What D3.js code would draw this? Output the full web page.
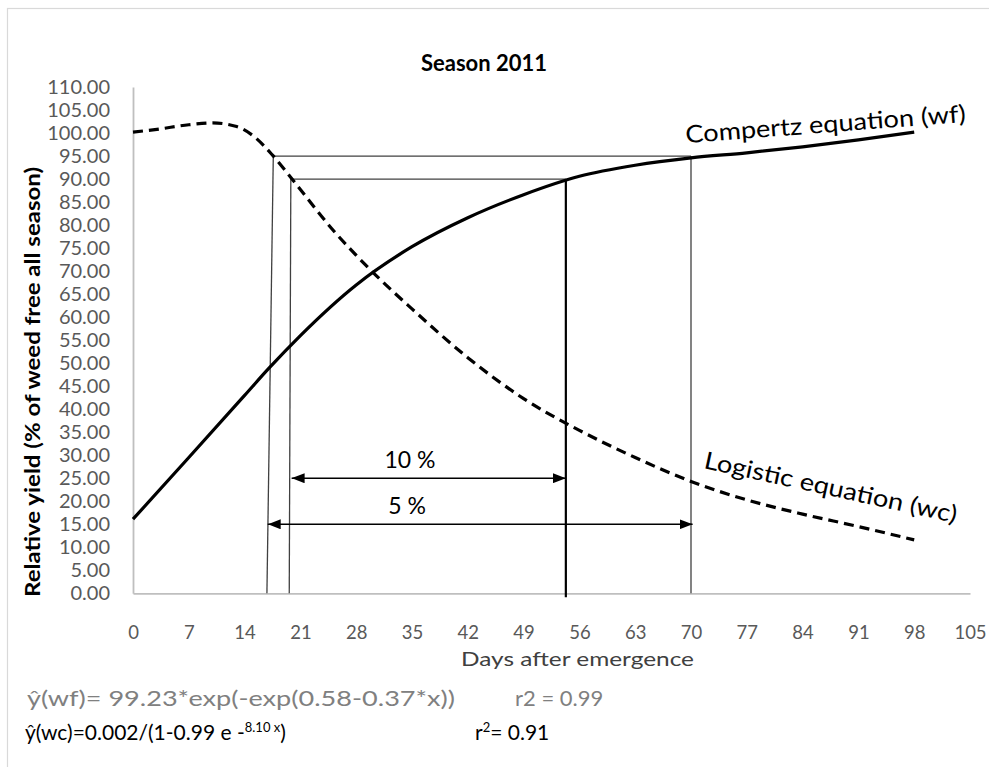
<!DOCTYPE html>
<html><head><meta charset="utf-8">
<script src="https://cdn.jsdelivr.net/npm/d3@7"></script>
<style>
html,body{margin:0;padding:0;background:#fff;}
svg{display:block;font-family:Lato,"Open Sans",sans-serif;}
</style></head>
<body>
<svg id="c" width="989" height="767"></svg>
<script>
// ---------------- data ----------------
const title = "Season 2011";
const xTicks = [0, 7, 14, 21, 28, 35, 42, 49, 56, 63, 70, 77, 84, 91, 98, 105];
const yTicks = [0, 5, 10, 15, 20, 25, 30, 35, 40, 45, 50, 55, 60, 65, 70, 75, 80, 85, 90, 95, 100, 105, 110];
// Compertz (wf) curve
const wfDays   = [0, 7, 14, 17, 21, 28, 35, 42, 49, 56, 63, 70, 77, 84, 91, 98];
const wfValues = [16.1, 29.5, 43.0, 48.8, 56.0, 67.0, 75.3, 81.6, 86.6, 90.6, 93.0, 94.6, 95.7, 97.0, 98.5, 100.2];
// Logistic (wc) curve
const wcDays   = [0, 3, 7, 10, 13, 15, 17.5, 20, 25, 30, 35, 42, 49, 56, 63, 70, 77, 84, 91, 98];
const wcValues = [100.2, 100.8, 101.8, 102.2, 101.4, 99.5, 95.2, 89.9, 79.1, 69.9, 61.8, 51.2, 42.3, 35.4, 29.5, 24.3, 20.3, 17.2, 14.5, 11.6];
// critical-period guide lines (days / relative-yield levels)
const guideLevels   = [95, 90];
const guideStartTop = [17.6, 19.8];
const guideStartBot = [16.8, 19.6];
const guideEnd      = [70.0, 54.3];
const arrowLabels = ["5 %", "10 %"];
const arrowLevels = [15, 25];
const arrowStart  = [16.9, 19.9];
const arrowEnd    = [70.2, 54.3];
const curveLabels = ["Compertz equation (wf)", "Logistic equation (wc)"];
const yTitle = "Relative yield (% of weed free all season)";
const xTitle = "Days after emergence";
const eq1 = "\u0177(wf)= 99.23*exp(-exp(0.58-0.37*x))";
const eq1r = "r2  = 0.99";
const eq2a = "\u0177(wc)=0.002/(1-0.99 e -";
const eq2sup = "8.10 x";
const eq2b = ")";
const eq2r = "r";

// ---------------- drawing ----------------
const svg = d3.select("#c");
svg.append("rect").attr("x",7.5).attr("y",8.5).attr("width",1000).attr("height",800)
  .attr("fill","#fff").attr("stroke","#d9d9d9").attr("stroke-width",1.2);

const x = d3.scaleLinear().domain([0,105]).range([133,970]);
const y = d3.scaleLinear().domain([0,110]).range([593.3,87]);

// axes
const ya = svg.append("g").attr("transform","translate(133,0)")
  .call(d3.axisLeft(y).tickValues(yTicks).tickSize(0).tickPadding(23).tickFormat(d3.format(".2f")));
ya.select(".domain").attr("stroke","#bfbfbf").attr("stroke-width",1.8);
ya.selectAll("text").attr("fill","#595959").attr("font-size","20px").attr("font-family","Lato");

const xa = svg.append("g").attr("transform","translate(0,593.3)")
  .call(d3.axisBottom(x).tickValues(xTicks).tickSize(0).tickPadding(33).tickFormat(d3.format("d")));
xa.select(".domain").attr("stroke","#bfbfbf").attr("stroke-width",1.8);
xa.selectAll("text").attr("fill","#595959").attr("font-size","18.5px").attr("font-family","Lato");

// guide lines
const g = svg.append("g");
guideLevels.forEach((lv,i)=>{
  const heavy = i===1;
  g.append("line").attr("x1",x(guideStartBot[i])).attr("y1",y(0))
   .attr("x2",x(guideStartTop[i])).attr("y2",y(lv))
   .attr("stroke","#404040").attr("stroke-width",1.3);
  g.append("line").attr("x1",x(guideStartTop[i])).attr("y1",y(lv))
   .attr("x2",x(guideEnd[i])).attr("y2",y(lv))
   .attr("stroke","#404040").attr("stroke-width",1.3);
  g.append("line").attr("x1",x(guideEnd[i])).attr("y1",y(lv))
   .attr("x2",x(guideEnd[i])).attr("y2",heavy? y(0)+4 : y(0))
   .attr("stroke",heavy?"#000":"#404040").attr("stroke-width",heavy?2.2:1.3);
});

// arrows
const defs = svg.append("defs");
defs.append("marker").attr("id","ah").attr("viewBox","0 0 13 10").attr("refX",13).attr("refY",5)
  .attr("markerWidth",13).attr("markerHeight",10).attr("markerUnits","userSpaceOnUse")
  .attr("orient","auto-start-reverse")
  .append("path").attr("d","M0,0 L13,5 L0,10 Z").attr("fill","#000");
arrowLevels.forEach((lv,i)=>{
  g.append("line").attr("x1",x(arrowStart[i])).attr("x2",x(arrowEnd[i]))
   .attr("y1",y(lv)).attr("y2",y(lv)).attr("stroke","#000").attr("stroke-width",1.3)
   .attr("marker-start","url(#ah)").attr("marker-end","url(#ah)");
  g.append("text").attr("x",i===1?410:407).attr("y",y(lv)-10).attr("text-anchor","middle")
   .attr("font-size","23px").attr("fill","#000").text(arrowLabels[i]);
});

// curves
const line = d3.line().x(d=>x(d[0])).y(d=>y(d[1])).curve(d3.curveMonotoneX);
svg.append("path").datum(wfDays.map((d,i)=>[d,wfValues[i]])).attr("d",line)
  .attr("fill","none").attr("stroke","#000").attr("stroke-width",3.2);
svg.append("path").datum(wcDays.map((d,i)=>[d,wcValues[i]])).attr("d",line)
  .attr("fill","none").attr("stroke","#000").attr("stroke-width",3.2)
  .attr("stroke-dasharray","10,6");

// curve labels
svg.append("text").attr("transform","translate(686,143) rotate(-4.3)")
  .attr("font-size","24px").attr("fill","#000")
  .attr("textLength",281).attr("lengthAdjust","spacingAndGlyphs").text(curveLabels[0]);
svg.append("text").attr("transform","translate(703,468) rotate(12.3)")
  .attr("font-size","24px").attr("fill","#000")
  .attr("textLength",258).attr("lengthAdjust","spacingAndGlyphs").text(curveLabels[1]);

// title
svg.append("text").attr("x",484).attr("y",71).attr("text-anchor","middle")
  .attr("font-size","22px").attr("font-weight","bold").attr("fill","#000").text(title);

// y title
svg.append("text").attr("transform","translate(40,382) rotate(-90)").attr("text-anchor","middle")
  .attr("font-size","21px").attr("font-weight","bold").attr("fill","#000")
  .attr("textLength",430).attr("lengthAdjust","spacingAndGlyphs").text(yTitle);

// x title
svg.append("text").attr("x",461).attr("y",666)
  .attr("font-size","20px").attr("fill","#404040")
  .attr("textLength",233).attr("lengthAdjust","spacingAndGlyphs").text(xTitle);

// equations
svg.append("text").attr("x",27).attr("y",706).attr("font-size","22px").attr("fill","#808080")
  .attr("textLength",428).attr("lengthAdjust","spacingAndGlyphs").text(eq1);
svg.append("text").attr("x",515).attr("y",706).attr("font-size","22px").attr("fill","#808080").text(eq1r);

const t2 = svg.append("text").attr("x",25).attr("y",740).attr("font-size","21px").attr("fill","#000");
t2.append("tspan").text(eq2a);
t2.append("tspan").attr("font-size","13px").attr("dy",-8).text(eq2sup);
t2.append("tspan").attr("dy",8).text(eq2b);
const t3 = svg.append("text").attr("x",475).attr("y",740).attr("font-size","21px").attr("fill","#000");
t3.append("tspan").text(eq2r);
t3.append("tspan").attr("font-size","13px").attr("dy",-8).text("2");
t3.append("tspan").attr("dy",8).text("= 0.91");
</script>
</body></html>
